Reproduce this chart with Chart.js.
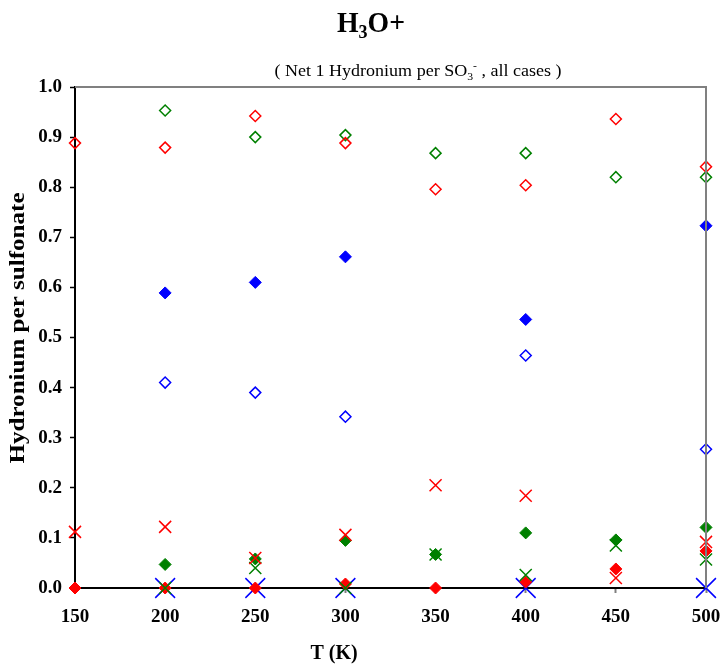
<!DOCTYPE html>
<html><head><meta charset="utf-8">
<script src="https://cdn.jsdelivr.net/npm/chart.js@4"></script>
<style>html,body{margin:0;padding:0;background:#fff;}#wrap{width:723px;height:665px;}</style>
</head><body><div id="wrap"><canvas id="c" width="723" height="665"></canvas></div>
<script>
// ---- data ----
const temperatures = [150, 200, 250, 300, 350, 400, 450, 500];
const xTicks = [150, 200, 250, 300, 350, 400, 450, 500];
const yTicks = [0.0, 0.1, 0.2, 0.3, 0.4, 0.5, 0.6, 0.7, 0.8, 0.9, 1.0];
const blueFilled  = [null, 0.589, 0.610, 0.661, null, 0.536, null, 0.723];
const blueOpen    = [null, 0.410, 0.390, 0.342, null, 0.464, null, 0.277];
const blueCross   = [null, 0.000, 0.000, 0.000, null, 0.000, null, 0.000];
const greenOpen   = [null, 0.953, 0.900, 0.904, 0.868, 0.868, 0.820, 0.820];
const redOpen     = [0.888, 0.879, 0.942, 0.888, 0.796, 0.804, 0.936, 0.841];
const greenFilled = [null, 0.047, 0.058, 0.095, 0.067, 0.110, 0.096, 0.121];
const greenCross  = [null, 0.000, 0.040, 0.000, 0.067, 0.026, 0.085, 0.057];
const redFilled   = [0.000, 0.000, 0.000, 0.008, 0.000, 0.012, 0.038, 0.074];
const redCross    = [0.112, 0.122, 0.060, 0.106, 0.205, 0.184, 0.020, 0.092];

const RED = '#FF0000', GREEN = '#008000', BLUE = '#0000FF';
function pts(arr) {
  const out = [];
  arr.forEach((v, i) => { if (v !== null) out.push({x: temperatures[i], y: v}); });
  return out;
}
function ds(label, arr, style, color, filled, radius, order) {
  return {
    label, data: pts(arr), pointStyle: style, clip: false, order,
    pointRadius: radius, pointHoverRadius: radius,
    borderColor: color, backgroundColor: filled ? color : 'rgba(0,0,0,0)',
    pointBorderColor: color, pointBackgroundColor: filled ? color : 'rgba(0,0,0,0)',
    pointBorderWidth: filled ? 1 : 1.5, showLine: false
  };
}

function drawRuns(ctx, runs, cx, baseline, size, fw, targetW) {
  let total = 0;
  const m = runs.map(([t, k]) => {
    const s = k === 'n' ? size : size * 0.65;
    ctx.font = fw + s + 'px "Liberation Serif"';
    const w = ctx.measureText(t).width;
    total += w; return {t, k, s, w};
  });
  const sx = targetW ? targetW / total : 1;
  ctx.save();
  ctx.translate(cx - total * sx / 2, baseline);
  ctx.scale(sx, 1);
  let x = 0;
  m.forEach(r => {
    ctx.font = fw + r.s + 'px "Liberation Serif"';
    const dy = r.k === 'sub' ? size * 0.22 : r.k === 'sup' ? -size * 0.42 : 0;
    ctx.fillText(r.t, x, dy);
    x += r.w;
  });
  ctx.restore();
}

const decor = {
  id: 'decor',
  afterDraw(chart) {
    const ctx = chart.ctx, a = chart.chartArea;
    ctx.save();
    ctx.strokeStyle = '#808080'; ctx.lineWidth = 2;
    ctx.beginPath();
    ctx.moveTo(a.left, a.top); ctx.lineTo(a.right, a.top); ctx.lineTo(a.right, a.bottom);
    ctx.stroke();
    ctx.fillStyle = '#000'; ctx.textBaseline = 'alphabetic'; ctx.textAlign = 'left';
    drawRuns(ctx, [['H','n'],['3','sub'],['O+','n']], 371, 32, 29, 'bold ', 68);
    drawRuns(ctx, [['( Net 1 Hydronium per SO','n'],['3','sub'],['-','sup'],[' , all cases )','n']], 418, 76, 16, '', 287);
    ctx.textAlign = 'center'; ctx.textBaseline = 'middle';
    ctx.font = 'bold 20px "Liberation Serif"';
    ctx.fillText('T (K)', 334, 654);
    ctx.save();
    ctx.translate(19, 328); ctx.rotate(-Math.PI / 2);
    const w = ctx.measureText('Hydronium per sulfonate').width;
    ctx.scale(271 / w, 1);
    ctx.fillText('Hydronium per sulfonate', 0, 0);
    ctx.restore();
    ctx.restore();
  }
};

new Chart(document.getElementById('c'), {
  type: 'scatter',
  data: { datasets: [
    ds('blue X', blueCross, 'crossRot', BLUE, false, 14, 9),
    ds('red filled', redFilled, 'rectRot', RED, true, 6, 8),
    ds('green X', greenCross, 'crossRot', GREEN, false, 8.5, 7),
    ds('green filled', greenFilled, 'rectRot', GREEN, true, 6, 6),
    ds('red X', redCross, 'crossRot', RED, false, 8.5, 5),
    ds('blue open', blueOpen, 'rectRot', BLUE, false, 5.5, 4),
    ds('blue filled', blueFilled, 'rectRot', BLUE, true, 6, 3),
    ds('green open', greenOpen, 'rectRot', GREEN, false, 5.5, 2),
    ds('red open', redOpen, 'rectRot', RED, false, 5.5, 1)
  ]},
  options: {
    responsive: false, devicePixelRatio: 1, animation: false,
    layout: { padding: { left: 0, top: 87, right: 17, bottom: 0 } },
    plugins: { legend: { display: false }, title: { display: false }, tooltip: { enabled: false } },
    scales: {
      x: {
        type: 'linear', min: 150, max: 500,
        afterFit: s => { s.height = 77; s.paddingRight = 0; s.paddingLeft = 0; },
        afterBuildTicks: s => { s.ticks = xTicks.map(v => ({value: v})); },
        border: { color: '#000', width: 2 },
        grid: { drawOnChartArea: false, tickLength: 5, color: '#808080', tickWidth: 2 },
        ticks: { color: '#000', padding: 13, maxRotation: 0,
          font: { family: '"Liberation Serif"', size: 19, weight: 'bold' } }
      },
      y: {
        type: 'linear', min: 0, max: 1,
        afterFit: s => { s.width = 75; s.paddingTop = 0; s.paddingBottom = 0; },
        afterBuildTicks: s => { s.ticks = yTicks.map(v => ({value: v})); },
        border: { color: '#000', width: 2 },
        grid: { drawOnChartArea: false, tickLength: 5, color: '#000', tickWidth: 1.5 },
        ticks: { color: '#000', padding: 8, callback: v => Number(v).toFixed(1),
          font: { family: '"Liberation Serif"', size: 19, weight: 'bold' } }
      }
    }
  },
  plugins: [decor]
});
</script></body></html>
